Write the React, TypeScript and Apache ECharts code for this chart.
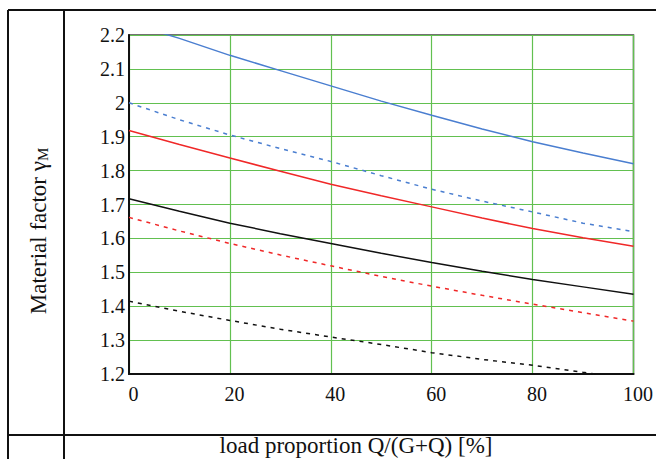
import React, { useEffect, useRef } from "react";
import * as echarts from "echarts";

const xValues = [0, 10, 20, 30, 40, 50, 60, 70, 80, 90, 100];
const blueSolid = [2.235, 2.19, 2.14, 2.095, 2.05, 2.005, 1.963, 1.923, 1.885, 1.852, 1.82];
const blueDashed = [2.0, 1.95, 1.905, 1.865, 1.827, 1.785, 1.745, 1.71, 1.678, 1.645, 1.62];
const redSolid = [1.918, 1.877, 1.837, 1.798, 1.76, 1.726, 1.693, 1.66, 1.629, 1.602, 1.577];
const blackSolid = [1.717, 1.68, 1.645, 1.614, 1.585, 1.556, 1.529, 1.503, 1.479, 1.457, 1.435];
const redDashed = [1.662, 1.622, 1.585, 1.551, 1.519, 1.488, 1.459, 1.432, 1.406, 1.381, 1.356];
const blackDashed = [1.415, 1.385, 1.358, 1.332, 1.309, 1.287, 1.263, 1.243, 1.226, 1.205, 1.185];

const yLabel = "Material factor ";
const yLabelSymbol = "γ";
const yLabelSub = "M";
const xLabel = "load proportion Q/(G+Q) [%]";

const SERIF = "Liberation Serif";

function zip(ys: number[]) {
  return xValues.map((x, i) => [x, ys[i]]);
}

export default function App() {
  const ref = useRef<HTMLDivElement>(null);
  useEffect(() => {
    if (!ref.current) return;
    const chart = echarts.init(ref.current, undefined, { renderer: "svg" });
    const mk = (name: string, ys: number[], color: string, dashed: boolean) => ({
      name,
      type: "line",
      data: zip(ys),
      showSymbol: false,
      symbol: "none",
      smooth: false,
      clip: true,
      lineStyle: { color, width: 1.5, type: dashed ? [4, 5] : "solid" },
    });
    const lineColor = "#111";
    chart.setOption({
      animation: false,
      backgroundColor: "#fff",
      textStyle: { fontFamily: SERIF },
      grid: {
        left: 129,
        top: 35,
        width: 505,
        height: 339,
        show: true,
        borderColor: "#444",
        borderWidth: 1.5,
        containLabel: false,
      },
      xAxis: {
        type: "value",
        min: 0,
        max: 100,
        interval: 20,
        axisLine: { show: true, onZero: false, lineStyle: { color: "#111", width: 2 } },
        axisTick: { show: false },
        axisLabel: {
          color: "#111",
          fontFamily: SERIF,
          fontSize: 20,
          margin: 10,
          padding: [0, 0, 0, 9],
        },
        splitLine: { show: true, lineStyle: { color: "#62c050", width: 1.2 } },
      },
      yAxis: {
        type: "value",
        min: 1.2,
        max: 2.2,
        interval: 0.1,
        axisLine: { show: true, onZero: false, lineStyle: { color: "#111", width: 2 } },
        axisTick: { show: false },
        axisLabel: {
          color: "#111",
          fontFamily: SERIF,
          fontSize: 20,
          margin: 4,
          padding: [6, 0, 0, 0],
          formatter: (v: number) => String(Math.round(v * 10) / 10),
        },
        splitLine: { show: true, lineStyle: { color: "#62c050", width: 1.2 } },
      },
      series: [
        mk("blueSolid", blueSolid, "#4a7ed0", false),
        mk("blueDashed", blueDashed, "#4a7ed0", true),
        mk("redSolid", redSolid, "#f02828", false),
        mk("blackSolid", blackSolid, "#111", false),
        mk("redDashed", redDashed, "#f02828", true),
        mk("blackDashed", blackDashed, "#111", true),
      ],
      graphic: [
        { type: "line", shape: { x1: 8, y1: 10, x2: 656, y2: 10 }, style: { stroke: lineColor, lineWidth: 2 } },
        { type: "line", shape: { x1: 8, y1: 10, x2: 8, y2: 459 }, style: { stroke: lineColor, lineWidth: 2 } },
        { type: "line", shape: { x1: 64, y1: 10, x2: 64, y2: 459 }, style: { stroke: lineColor, lineWidth: 2 } },
        { type: "line", shape: { x1: 8, y1: 435, x2: 656, y2: 435 }, style: { stroke: lineColor, lineWidth: 2 } },
        {
          type: "text",
          x: 38,
          y: 231,
          rotation: Math.PI / 2,
          style: {
            text: `{a|${yLabel}}{b|${yLabelSymbol}}{c|${yLabelSub}}`,
            align: "center",
            verticalAlign: "middle",
            fill: "#111",
            rich: {
              a: { fontFamily: SERIF, fontSize: 23, fill: "#111" },
              b: { fontFamily: SERIF, fontSize: 23, fill: "#111" },
              c: { fontFamily: SERIF, fontSize: 15, fill: "#111", padding: [9, 0, 0, 0] },
            },
          },
        },
        {
          type: "text",
          x: 356,
          y: 445,
          style: {
            text: xLabel,
            align: "center",
            verticalAlign: "middle",
            fontFamily: SERIF,
            fontSize: 23,
            fill: "#111",
          },
        },
      ],
    });
    return () => chart.dispose();
  }, []);
  return (
    <div
      ref={ref}
      style={{ position: "fixed", left: 0, top: 0, width: 656, height: 459, background: "#fff" }}
    />
  );
}
